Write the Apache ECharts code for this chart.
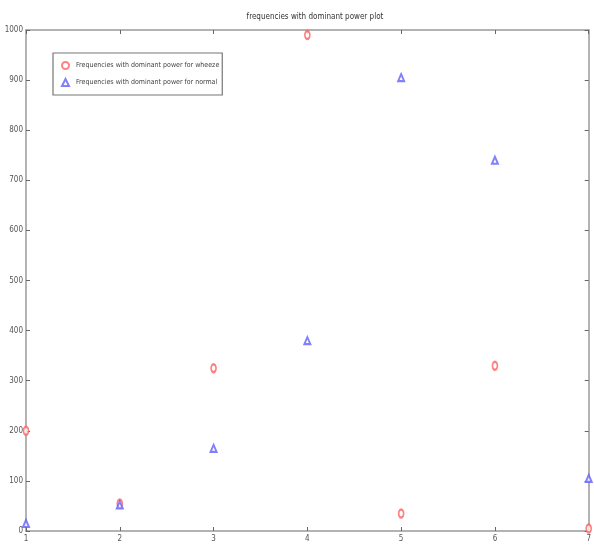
<!DOCTYPE html>
<html><head><meta charset="utf-8">
<script src="https://cdn.jsdelivr.net/npm/echarts@6/dist/echarts.min.js"></script>
<style>html,body{margin:0;padding:0;background:#fff}#c{width:594px;height:547px}</style>
</head><body><div id="c"></div>
<script>
const xValues = [1, 2, 3, 4, 5, 6, 7];
const wheeze = [200, 55, 325, 990, 35, 330, 5];
const normal = [15, 52, 165, 380, 905, 740, 105];
const seriesNames = ['Frequencies with dominant power for wheeze', 'Frequencies with dominant power for normal'];
const titleText = 'frequencies with dominant power plot';

const FONT = '"Liberation Sans Narrow", "DejaVu Sans Condensed", sans-serif';
const axisCol = '#9a9a9a';
const chart = echarts.init(document.getElementById('c'));
const frameAxis = {
  axisLine: {show: true, onZero: false, lineStyle: {color: axisCol, width: 1.5}},
  axisTick: {show: true, inside: true, length: 4, lineStyle: {color: '#666'}},
  splitLine: {show: false}
};
chart.setOption({
  backgroundColor: '#fff',
  animation: false,
  title: {text: titleText, left: 310, textAlign: 'center', top: 8,
    textStyle: {fontFamily: FONT, fontSize: 8, fontWeight: 'normal', color: '#333'}},
  legend: {
    orient: 'vertical', left: 53, top: 53,
    padding: [8, 3, 8, 8], itemGap: 8, itemWidth: 7, itemHeight: 7,
    borderColor: '#777', borderWidth: 1.2, backgroundColor: '#fff',
    textStyle: {fontFamily: FONT, fontSize: 7, color: '#444', padding: [0, 0, 0, 2]},
    data: [{name: seriesNames[0], icon: 'emptyCircle', itemStyle: {borderWidth: 0.8}},
           {name: seriesNames[1], icon: 'emptyTriangle', itemStyle: {borderWidth: 0.8}}]
  },
  grid: {left: 26, right: 2, top: 30, bottom: 16},
  xAxis: [
    Object.assign({type: 'value', min: 1, max: 7, interval: 1, position: 'bottom',
      axisLabel: {fontFamily: FONT, fontSize: 8, color: '#555', margin: 4}}, frameAxis),
    Object.assign({type: 'value', min: 1, max: 7, interval: 1, position: 'top', axisLabel: {show: false}}, frameAxis)
  ],
  yAxis: [
    Object.assign({type: 'value', min: 0, max: 1000, interval: 100, position: 'left',
      axisLabel: {fontFamily: FONT, fontSize: 8, color: '#555', margin: 3, formatter: v => String(v)}}, frameAxis),
    Object.assign({type: 'value', min: 0, max: 1000, interval: 100, position: 'right', axisLabel: {show: false}}, frameAxis)
  ],
  series: [
    {name: seriesNames[0], type: 'scatter', symbol: 'emptyCircle', symbolSize: [5, 8],
      itemStyle: {color: '#ff6060', borderColor: '#ff6060', borderWidth: 1},
      data: xValues.map((x, i) => [x, wheeze[i]]), clip: false},
    {name: seriesNames[1], type: 'scatter', symbol: 'emptyTriangle', symbolSize: [6, 7],
      itemStyle: {color: '#6060ff', borderColor: '#6060ff', borderWidth: 1},
      data: xValues.map((x, i) => [x, normal[i]]), clip: false}
  ]
});
</script></body></html>
